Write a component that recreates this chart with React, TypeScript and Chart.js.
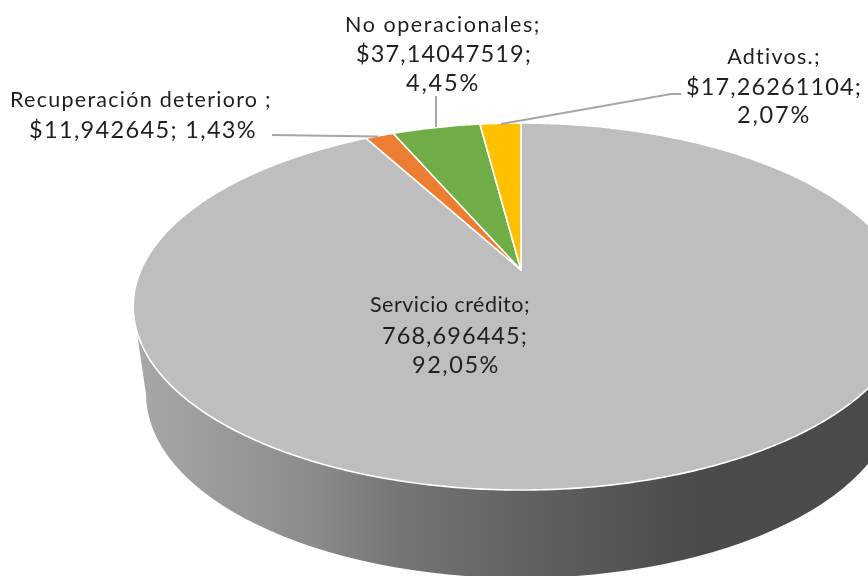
import React, { useEffect, useRef } from "react";
import { Chart, registerables } from "chart.js";

Chart.register(...registerables);

const categories = ["Servicio crédito", "Recuperación deterioro ", "No operacionales", "Adtivos."];
const values = [768.696445, 11.942645, 37.14047519, 17.26261104];
const valueLabels = ["768,696445", "$11,942645", "$37,14047519", "$17,26261104"];
const percentLabels = ["92,05%", "1,43%", "4,45%", "2,07%"];
const sliceColors = ["#bebebe", "#ed7d31", "#70ad47", "#ffc000"];

// Perspective projection of the unit disc onto the picture
const APEX_X = 521;
const APEX_Y = 270;
const SCALE_X = 380;
const SCALE_Y = 122.5;
const PERSP = -0.199;

function project(angle: number): [number, number] {
  const c = Math.cos(angle);
  const s = Math.sin(angle);
  const w = 1 + PERSP * s;
  return [APEX_X + (SCALE_X * c) / w, (SCALE_Y * s + APEX_Y) / w];
}

const TEXT_FONT = '21.5px Lato, "Open Sans", sans-serif';
const NUMBER_FONT = '23.5px Lato, "Open Sans", sans-serif';
const TEXT_COLOR = "#1f1f1f";
const LEADER_COLOR = "#a6a6a6";

const threeLines = (i: number) => [categories[i] + ";", valueLabels[i] + ";", percentLabels[i]];
const twoLines = (i: number) => [categories[i] + ";", valueLabels[i] + "; " + percentLabels[i]];

const labelLayout = [
  { index: 0, cxs: [450, 455, 456], ys: [305, 336, 365], widths: [160, 146, 88], lines: threeLines },
  { index: 1, cxs: [141, 143], ys: [100, 130], widths: [262, 228], lines: twoLines },
  { index: 2, cxs: [443, 444, 443], ys: [25, 54, 83], widths: [196, 176, 74], lines: threeLines },
  { index: 3, cxs: [774, 774, 774], ys: [57, 87, 115], widths: [94, 176, 74], lines: threeLines },
];

const leaderLines: number[][][] = [
  [[272, 135], [378, 136.5]],
  [[436, 96], [436, 127]],
  [[681, 94], [671, 94], [501, 124]],
];

const pie3d = {
  id: "pie3d",
  beforeDatasetsDraw(chart: any) {
    const ctx: CanvasRenderingContext2D = chart.ctx;
    const arcs = chart.getDatasetMeta(0).data;

    // Extruded side
    ctx.save();
    const g = ctx.createLinearGradient(135, 0, 868, 0);
    g.addColorStop(0, "#a8a8a8");
    g.addColorStop(0.25, "#8a8a8a");
    g.addColorStop(0.36, "#757575");
    g.addColorStop(0.53, "#626262");
    g.addColorStop(0.69, "#525252");
    g.addColorStop(0.77, "#4a4a4a");
    g.addColorStop(1, "#4a4a4a");
    ctx.fillStyle = g;
    ctx.beginPath();
    ctx.moveTo(133, 306);
    ctx.ellipse(521, 394, 375, 184, 0, Math.PI, 0, true);
    ctx.lineTo(909, 306);
    ctx.closePath();
    ctx.fill();

    // Top face, one wedge per arc element
    ctx.lineJoin = "round";
    ctx.lineWidth = 1.6;
    ctx.strokeStyle = "#ffffff";
    arcs.forEach((arc: any, i: number) => {
      const { startAngle, endAngle } = arc;
      const steps = Math.max(4, Math.ceil((endAngle - startAngle) / 0.008));
      ctx.beginPath();
      ctx.moveTo(APEX_X, APEX_Y);
      for (let k = 0; k <= steps; k++) {
        const [x, y] = project(startAngle + ((endAngle - startAngle) * k) / steps);
        ctx.lineTo(x, y);
      }
      ctx.closePath();
      ctx.fillStyle = sliceColors[i];
      ctx.fill();
      ctx.stroke();
    });

    // Leader lines
    ctx.strokeStyle = LEADER_COLOR;
    ctx.lineWidth = 2;
    ctx.lineJoin = "miter";
    for (const pts of leaderLines) {
      ctx.beginPath();
      pts.forEach(([x, y], k) => (k ? ctx.lineTo(x, y) : ctx.moveTo(x, y)));
      ctx.stroke();
    }

    // Labels: the letter spacing of each line is fitted to its width
    ctx.fillStyle = TEXT_COLOR;
    ctx.textAlign = "center";
    ctx.textBaseline = "middle";
    for (const l of labelLayout) {
      l.lines(l.index).forEach((t, k) => {
        ctx.font = k === 0 ? TEXT_FONT : NUMBER_FONT;
        (ctx as any).letterSpacing = "0px";
        const w = ctx.measureText(t).width;
        (ctx as any).letterSpacing = `${(l.widths[k] - w) / t.length}px`;
        ctx.fillText(t, l.cxs[k], l.ys[k]);
      });
    }
    ctx.restore();
    return false;
  },
};

export default function App() {
  const ref = useRef<HTMLCanvasElement | null>(null);
  useEffect(() => {
    const chart = new Chart(ref.current as HTMLCanvasElement, {
      type: "pie",
      data: {
        labels: categories,
        datasets: [{ data: values, backgroundColor: sliceColors, borderColor: "#ffffff" }],
      },
      options: {
        animation: false,
        responsive: false,
        plugins: { legend: { display: false }, tooltip: { enabled: false } },
      },
      plugins: [pie3d],
    } as any);
    return () => chart.destroy();
  }, []);
  return (
    <div style={{ position: "absolute", left: 0, top: 0, width: 868, height: 576, overflow: "hidden", background: "#fff" }}>
      <canvas ref={ref} width={868} height={576} style={{ display: "block" }} />
    </div>
  );
}
